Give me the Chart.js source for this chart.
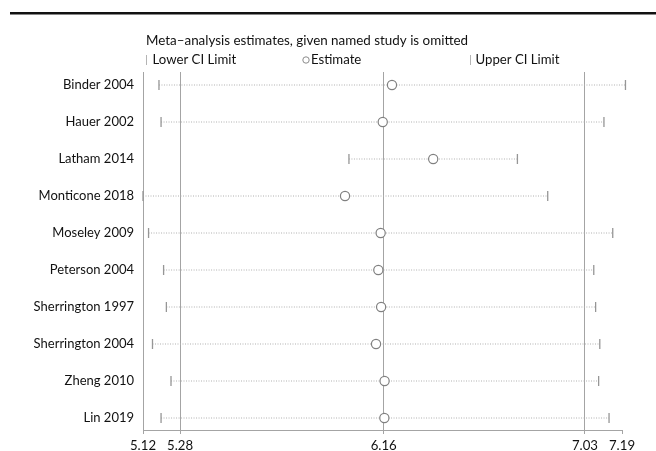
<!DOCTYPE html>
<html>
<head>
<meta charset="utf-8">
<script src="https://cdn.jsdelivr.net/npm/chart.js@4/dist/chart.umd.min.js"></script>
<style>
html,body{margin:0;padding:0;background:#fff;}
#wrap{position:relative;width:656px;height:451px;}
</style>
</head>
<body>
<div id="wrap"><canvas id="c" width="656" height="451"></canvas></div>
<script>
// ---- data ----
const studies = ["Binder 2004","Hauer 2002","Latham 2014","Monticone 2018","Moseley 2009","Peterson 2004","Sherrington 1997","Sherrington 2004","Zheng 2010","Lin 2019"];
const estimates = [6.196, 6.156, 6.374, 5.993, 6.147, 6.137, 6.149, 6.127, 6.164, 6.163];
const lowerCI   = [5.189, 5.198, 6.010, 5.120, 5.144, 5.209, 5.221, 5.161, 5.241, 5.198];
const upperCI   = [7.205, 7.112, 6.738, 6.869, 7.150, 7.068, 7.076, 7.094, 7.089, 7.134];
const xTickValues = [5.12, 5.28, 6.16, 7.03, 7.19];
const refLineValues = [5.28, 6.16, 7.03];
const titleText = "Meta\u2013analysis estimates, given named study is omitted";
const legendLabels = ["Lower CI Limit", "Estimate", "Upper CI Limit"];

// ---- build datasets ----
const rowIdx = studies.map((_, i) => i);
const ciSegments = [];
rowIdx.forEach(i => {
  ciSegments.push({x: lowerCI[i], y: i});
  ciSegments.push({x: upperCI[i], y: i});
  ciSegments.push({x: null, y: null});
});

const FONT = "Lato, 'DejaVu Sans', sans-serif";
const TXT = "#111111";
const GRID = "#a4a4a4";

const decor = {
  id: 'decor',
  afterDraw(chart) {
    const ctx = chart.ctx;
    ctx.save();
    // top rule
    ctx.strokeStyle = "#111";
    ctx.lineWidth = 2.4;
    ctx.beginPath(); ctx.moveTo(10, 13.3); ctx.lineTo(656, 13.3); ctx.stroke();
    // title
    ctx.fillStyle = TXT;
    ctx.font = "13.4px " + FONT;
    ctx.textBaseline = "middle";
    ctx.textAlign = "left";
    ctx.fillText(titleText, 146, 41);
    // legend
    ctx.font = "13.2px " + FONT;
    const ly = 60;
    ctx.strokeStyle = "#b4b4b4"; ctx.lineWidth = 1;
    ctx.beginPath(); ctx.moveTo(146.5, ly - 5); ctx.lineTo(146.5, ly + 5); ctx.stroke();
    ctx.fillText(legendLabels[0], 152.5, ly);
    ctx.strokeStyle = "#8a8a8a";
    ctx.beginPath(); ctx.arc(306, ly, 3.2, 0, Math.PI * 2); ctx.stroke();
    ctx.fillText(legendLabels[1], 311, ly);
    ctx.strokeStyle = "#b4b4b4";
    ctx.beginPath(); ctx.moveTo(470.5, ly - 5); ctx.lineTo(470.5, ly + 5); ctx.stroke();
    ctx.fillText(legendLabels[2], 475.5, ly);
    ctx.restore();
  }
};

new Chart(document.getElementById('c'), {
  type: 'line',
  data: {
    datasets: [
      {
        label: 'Estimate',
        data: rowIdx.map(i => ({x: estimates[i], y: i})),
        showLine: false,
        pointStyle: 'circle',
        pointRadius: 4.6,
        pointBorderWidth: 1.2,
        pointBorderColor: '#808080',
        pointBackgroundColor: '#ffffff',
        order: 1,
        clip: false
      },
      {
        label: 'Lower CI Limit',
        data: rowIdx.map(i => ({x: lowerCI[i], y: i})),
        showLine: false,
        pointStyle: 'line',
        rotation: 90,
        pointRadius: 5,
        pointBorderWidth: 1.3,
        pointBorderColor: '#969696',
        order: 2,
        clip: false
      },
      {
        label: 'Upper CI Limit',
        data: rowIdx.map(i => ({x: upperCI[i], y: i})),
        showLine: false,
        pointStyle: 'line',
        rotation: 90,
        pointRadius: 5,
        pointBorderWidth: 1.3,
        pointBorderColor: '#969696',
        order: 2,
        clip: false
      },
      {
        label: 'CI',
        data: ciSegments,
        borderColor: '#b0b0b0',
        borderWidth: 1,
        borderDash: [1, 1.5],
        pointRadius: 0,
        spanGaps: false,
        order: 3,
        clip: false
      }
    ]
  },
  options: {
    responsive: false,
    animation: false,
    events: [],
    layout: { padding: { top: 72, right: 34, left: 0, bottom: 0 } },
    plugins: { legend: { display: false }, title: { display: false }, tooltip: { enabled: false } },
    scales: {
      x: {
        type: 'linear',
        min: xTickValues[0],
        max: xTickValues[xTickValues.length - 1],
        afterBuildTicks: axis => { axis.ticks = xTickValues.map(v => ({value: v})); },
        afterFit: axis => { axis.height = 21; },
        ticks: {
          autoSkip: false, maxRotation: 0, padding: 4,
          color: TXT, font: { family: FONT, size: 13.2 },
          callback: v => Number(v).toFixed(2)
        },
        grid: {
          drawTicks: true, tickLength: 4, tickColor: GRID, lineWidth: 1,
          color: c => (c.tick && refLineValues.includes(c.tick.value)) ? GRID : 'rgba(0,0,0,0)'
        },
        border: { display: true, color: GRID, width: 1 }
      },
      y: {
        type: 'linear',
        reverse: true,
        min: -13 / 37,
        max: 345 / 37,
        afterBuildTicks: axis => { axis.ticks = rowIdx.map(i => ({value: i})); },
        afterFit: axis => { axis.width = 143; },
        ticks: {
          autoSkip: false, padding: 9,
          color: TXT, font: { family: FONT, size: 13 },
          callback: v => studies[v] !== undefined ? studies[v] : ''
        },
        grid: { display: false, drawTicks: false },
        border: { display: true, color: GRID, width: 1 }
      }
    }
  },
  plugins: [decor]
});
</script>
</body>
</html>
